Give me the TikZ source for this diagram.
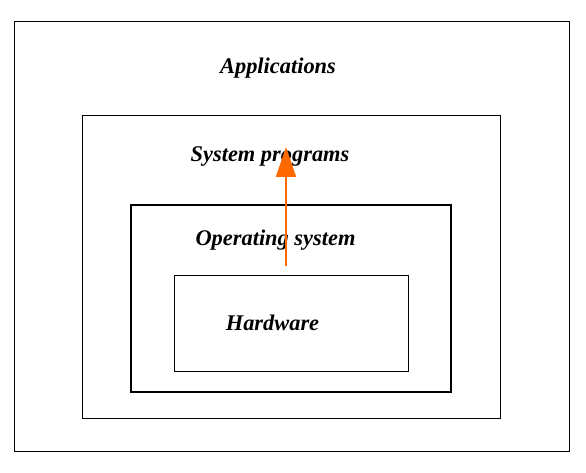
\documentclass[tikz,border=0pt]{standalone}
\usepackage{fontspec}
\setmainfont{Liberation Serif}
\usetikzlibrary{arrows.meta}
\definecolor{arroworange}{HTML}{FF6A00}

\begin{document}
\begin{tikzpicture}[
  x=1pt, y=-1pt,
  >=Stealth,
  layer/.style={draw, line width=0.9pt},
  oslayer/.style={draw, line width=2.4pt},
  layertext/.style={font=\fontsize{22.4}{24}\selectfont\bfseries\itshape, inner sep=0pt},
  uparrow/.style={arroworange, line width=2pt, -{Triangle[width=20pt,length=30pt]}},
]

% --- Rahmen fuer das Bild ---
\useasboundingbox (0,0) rectangle (586,473);

% --- Schichten von aussen nach innen ---
\draw[layer] (14,21) rectangle (569,451);
\draw[layer] (82,115) rectangle (500,418);
\draw[oslayer] (131,205) rectangle (451,392);
\draw[layer] (174,275) rectangle (408,371);

% --- Beschriftungen der Schichten ---
\node[layertext] (apps) at (278,68.5) {Applications};
\node[layertext] (sysprog) at (270,156.5) {System programs};
\node[layertext] (os) at (275.5,240.5) {Operating system};
\node[layertext] (hw) at (272.5,322.5) {Hardware};

% --- Pfeil vom Betriebssystem nach oben ---
\coordinate (arrowstart) at (286,266);
\coordinate (arrowtip) at (286,147);
\draw[uparrow] (arrowstart) -- (arrowtip);

\end{tikzpicture}
\end{document}
